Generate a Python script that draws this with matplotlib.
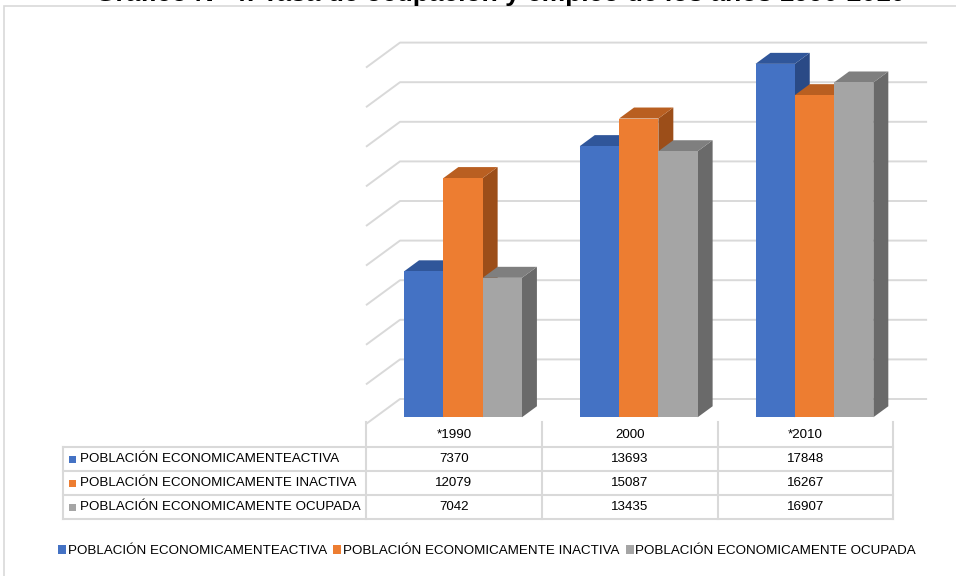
import matplotlib
matplotlib.use("Agg")
import matplotlib.pyplot as plt
from matplotlib.patches import Polygon, Rectangle, Patch

plt.rcParams['font.family'] = ['Liberation Sans', 'DejaVu Sans']

# data
years = ["*1990", "2000", "*2010"]
series_names = [
    "POBLACIÓN ECONOMICAMENTEACTIVA",
    "POBLACIÓN ECONOMICAMENTE INACTIVA",
    "POBLACIÓN ECONOMICAMENTE OCUPADA",
]
activa = [7370, 13693, 17848]
inactiva = [12079, 15087, 16267]
ocupada = [7042, 13435, 16907]
grid_values = list(range(0, 18001, 2000))
title = "Gráfico N° 4: Tasa de ocupación y empleo de los años 1990-2010"

front_cols = ["#4472C4", "#ED7D31", "#A5A5A5"]
top_cols = ["#30569A", "#B95F21", "#7F7F7F"]
side_cols = ["#2A4A86", "#9C4E19", "#6A6A6A"]
grid_col = "#D9D9D9"

W, H = 956, 576
fig = plt.figure(figsize=(W / 100, H / 100), dpi=100)


def fx(p):
    return p / W


def fy(p):
    return 1 - p / H


# outer frame (right / bottom edges fall outside the picture)
fig.patches.append(Rectangle((fx(4), -0.1), 1.2, (H - 6) / H + 0.1,
                             transform=fig.transFigure, fill=False,
                             edgecolor=grid_col, lw=1.2))

# title is cropped at the top edge in the original picture
fig.text(fx(500), fy(0.5), title, ha='center', va='baseline',
         fontsize=19, fontweight='bold')

# chart axes: category units on x, values on y, oblique depth offsets
px_x = 175.7          # pixels per category
px_y = 19.8 / 1000    # pixels per value unit
ax_l, ax_r, ax_t, ax_b = 340, 940, 30, 430
front_x0, floor_y = 366, 424
ax = fig.add_axes([fx(ax_l), fy(ax_b), (ax_r - ax_l) / W, (ax_b - ax_t) / H])
ax.set_xlim(-0.5 - (front_x0 - ax_l) / px_x, -0.5 + (ax_r - front_x0) / px_x)
ax.set_ylim(-(ax_b - floor_y) / px_y, (floor_y - ax_t) / px_y)
ax.axis('off')

dxw = 34 / px_x
dyw = 25 / px_y
n = len(years)

for v in grid_values:
    ax.plot([-0.5, -0.5 + dxw, n - 0.5 + dxw], [v, v + dyw, v + dyw],
            color=grid_col, lw=1.4, zorder=1, solid_capstyle='butt')

bw = 0.2236
d0, d1 = 0.27, 0.71
dd = d1 - d0
z = 2
all_series = [activa, inactiva, ocupada]
for j in range(n):
    for i, vals in enumerate(all_series):
        v = vals[j]
        xl = j + (i - 1) * bw - bw / 2 + d0 * dxw
        y0 = d0 * dyw
        ox, oy = dd * dxw, dd * dyw
        side = Polygon([(xl + bw, y0), (xl + bw, y0 + v), (xl + bw + ox, y0 + v + oy),
                        (xl + bw + ox, y0 + oy)], closed=True,
                       facecolor=side_cols[i], edgecolor='none', zorder=z)
        top = Polygon([(xl, y0 + v), (xl + bw, y0 + v), (xl + bw + ox, y0 + v + oy),
                       (xl + ox, y0 + v + oy)], closed=True,
                      facecolor=top_cols[i], edgecolor='none', zorder=z)
        ax.add_patch(side)
        ax.add_patch(top)
        ax.bar(xl, v, width=bw, bottom=y0, align='edge', color=front_cols[i],
               edgecolor='none', zorder=z + 1)
        z += 2

# data table
col_x = [366, 542, 718, 893]
row_y = [422, 447, 471, 495, 519]
lab_x = 63

for y in row_y[1:]:
    fig.add_artist(plt.Line2D([fx(lab_x), fx(col_x[-1])], [fy(y), fy(y)],
                              color=grid_col, lw=1.5))
for x in col_x:
    fig.add_artist(plt.Line2D([fx(x), fx(x)], [fy(row_y[0]), fy(row_y[-1])],
                              color=grid_col, lw=1.5))
fig.add_artist(plt.Line2D([fx(lab_x), fx(lab_x)], [fy(row_y[1]), fy(row_y[-1])],
                          color=grid_col, lw=1.5))

fs = 9.6
for k, yr in enumerate(years):
    cx = (col_x[k] + col_x[k + 1]) / 2
    fig.text(fx(cx), fy((row_y[0] + row_y[1]) / 2 + 1), yr, ha='center', va='center', fontsize=fs)
for i, (name, vals) in enumerate(zip(series_names, all_series)):
    cy = (row_y[i + 1] + row_y[i + 2]) / 2
    fig.patches.append(Rectangle((fx(69), fy(cy + 3.5)), 7 / W, 7 / H,
                                 transform=fig.transFigure, facecolor=front_cols[i],
                                 edgecolor='none'))
    fig.text(fx(80), fy(cy), name, ha='left', va='center', fontsize=fs)
    for k, v in enumerate(vals):
        cx = (col_x[k] + col_x[k + 1]) / 2
        fig.text(fx(cx), fy(cy), str(v), ha='center', va='center', fontsize=fs)

# legend
handles = [Patch(facecolor=c, edgecolor='none') for c in front_cols]
fig.legend(handles, series_names, loc='center', bbox_to_anchor=(fx(487), fy(551)),
           ncol=3, frameon=False, fontsize=fs, handlelength=0.6, handleheight=0.6,
           handletextpad=0.1, columnspacing=0.5, borderpad=0)

fig.savefig("out.png", dpi=100)
